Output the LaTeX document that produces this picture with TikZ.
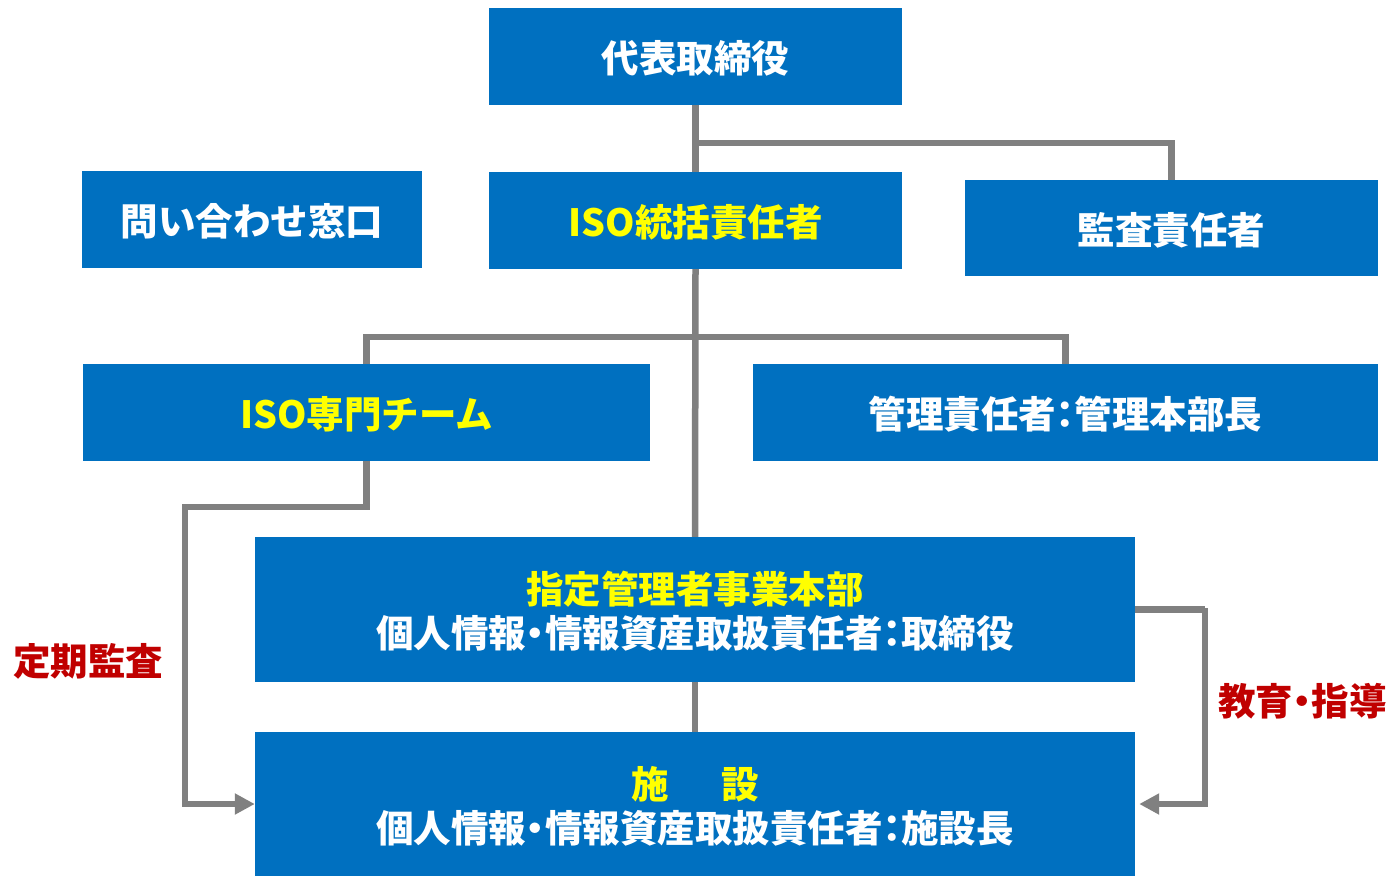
\documentclass[tikz,border=0pt]{standalone}
\usepackage{fontspec}
\usetikzlibrary{arrows.meta}
\newfontfamily\jp{Noto Sans CJK JP}
\newfontfamily\jpp[RawFeature=+palt]{Noto Sans CJK JP}
\newcommand{\pdot}{{\jpp\bfseries ・}}
\newcommand{\pcol}{{\jpp\bfseries ：}}
\definecolor{boxblue}{HTML}{0070C0}
\definecolor{lblred}{HTML}{C00000}
\definecolor{lngray}{HTML}{808080}
\definecolor{ylw}{HTML}{FFFF00}
\tikzset{
  box/.style={fill=boxblue, draw=none, inner sep=0pt, align=center, text=white,
    text depth=0pt, font=\jp\bfseries\fontsize{37.5}{44}\selectfont},
  conn/.style={draw=lngray, line width=6.5pt},
  arr/.style={conn, -{Triangle[length=20pt,width=20pt]}},
  lbl/.style={text=lblred, font=\jp\bfseries\fontsize{37.5}{40}\selectfont, inner sep=0pt}
}
\begin{document}
\begin{tikzpicture}[x=1pt,y=-1pt]
\useasboundingbox (0,0) rectangle (1386,876);
% boxes
\node[box, minimum width=413pt, minimum height=97pt] (ceo) at (695.5,56.5) {代表取締役};
\node[box, minimum width=340pt, minimum height=97pt] (contact) at (252,219.5) {問い合わせ窓口};
\node[box, minimum width=413pt, minimum height=97pt, text=ylw] (iso) at (695.5,220.5) {ISO統括責任者};
\node[box, minimum width=413pt, minimum height=96pt] (audit) at (1171.5,228) {監査責任者};
\node[box, minimum width=567pt, minimum height=97pt, text=ylw] (team) at (366.5,412.5) {ISO専門チーム};
\node[box, minimum width=625pt, minimum height=97pt] (mgr) at (1065.5,412.5) {管理責任者\pcol 管理本部長};
\node[box, minimum width=880pt, minimum height=145pt] (hq) at (695,609.5)
  {\textcolor{ylw}{指定管理者事業本部}\\個人情報\pdot 情報資産取扱責任者\pcol 取締役};
\node[box, minimum width=880pt, minimum height=144pt] (fac) at (695,804)
  {\textcolor{ylw}{施\hspace{1.4em}設}\\個人情報\pdot 情報資産取扱責任者\pcol 施設長};
% labels
\node[lbl] (audlbl) at (88,661) {定期監査};
\node[lbl, anchor=west] (edulbl) at (1218,701) {教育\pdot 指導};
% junctions
\coordinate (j1) at (695.5,143);
\coordinate (j2) at (695.5,337);
\coordinate (c1) at (185,507);
\coordinate (c2) at (1205,608);
% connectors
\draw[conn] (ceo.south) -- (iso.north);
\draw[conn] (j1) -| (audit.north);
\draw[conn] (iso.south) -- (hq.north);
\draw[conn] (team.north) |- (j2) -| (mgr.north);
\draw[conn] (hq.south) -- (fac.north);
\draw[arr] (team.south) |- (c1) |- (fac.west);
\draw[arr, shorten >=4pt] (hq.east) -| (c2) |- (fac.east);
\end{tikzpicture}
\end{document}
